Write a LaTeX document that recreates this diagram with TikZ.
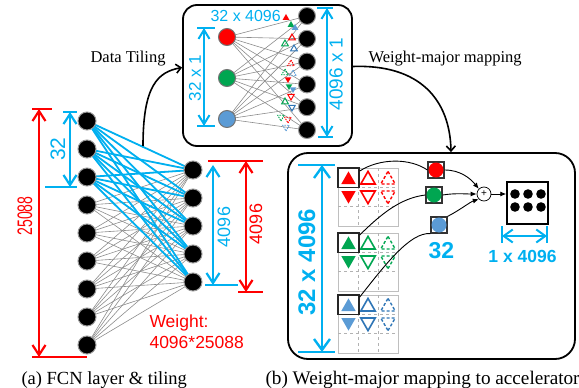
\documentclass[tikz,border=0pt]{standalone}
\usepackage{fontspec}
\usepackage{graphicx}
\setmainfont{Liberation Serif}
\setsansfont{Liberation Sans}
\usetikzlibrary{arrows.meta,backgrounds}
\definecolor{sky}{RGB}{0,176,240}
\definecolor{rr}{RGB}{255,0,0}
\definecolor{gg}{RGB}{0,166,81}
\definecolor{bb}{RGB}{91,155,213}
\definecolor{bd}{RGB}{46,117,182}
\newcommand\fsz[1]{\fontsize{#1}{#1}\selectfont}
\newcommand\tU[3]{\path[#1,shift={#2}] (0,-0.55*#3) -- (0.6*#3,0.5*#3) -- (-0.6*#3,0.5*#3) -- cycle;}
\newcommand\tD[3]{\path[#1,shift={#2}] (0,0.55*#3) -- (0.6*#3,-0.5*#3) -- (-0.6*#3,-0.5*#3) -- cycle;}
\begin{document}
\begin{tikzpicture}[x=1pt,y=-1pt,
  nn/.style={circle,fill=black,draw=black!40,line width=1pt,minimum size=18pt,inner sep=0pt},
  cn/.style={circle,draw=black!55,line width=1pt,minimum size=17pt,inner sep=0pt},
  gedge/.style={draw=black!45,line width=0.6pt},
  bedge/.style={draw=sky,line width=1.8pt},
  barbs/.style={{Straight Barb[length=10pt,width=13pt]}-{Straight Barb[length=10pt,width=13pt]}},
  sbarbs/.style={{Straight Barb[length=9pt,width=11pt]}-{Straight Barb[length=9pt,width=11pt]}},
  bigarrow/.style={line width=1.6pt,-{Straight Barb[length=5pt,width=9pt]}},
  conn/.style={line width=0.9pt,-{Latex[length=6pt,width=5pt]}},
  tl/.style={line width=1pt},
  tdash/.style={line width=0.9pt,dash pattern=on 1.5pt off 1pt},
  gl/.style={line width=1.6pt},
  gdash/.style={line width=1.4pt,dash pattern=on 3pt off 2pt},
  captxt/.style={font=\fsz{18.5}}
]
\useasboundingbox (0,0) rectangle (579,388);

% ---------------- (a) FCN layer ----------------
\foreach \i in {1,...,9} \node[nn] (L\i) at (87,{121+28*(\i-1)}) {};
\foreach \j in {1,...,5} \node[nn] (R\j) at (193,{170+28*(\j-1)}) {};
\begin{scope}[on background layer]
\foreach \i in {1,...,9} \foreach \j in {1,...,5} \draw[gedge] (L\i.center) -- (R\j.center);
\foreach \i in {1,2,3} \foreach \j in {1,...,5} \draw[bedge] (L\i.center) -- (R\j.center);
\end{scope}

% 25088
\draw[rr,line width=2pt] (32,109) -- (52,109) (32,357) -- (87,357);
\draw[rr,line width=2.2pt,barbs] (39,109) -- (39,357);
\node[rotate=90,text=rr,font=\sffamily\fsz{21}] (t25088) at (25,216) {\scalebox{0.67}[1]{25088}};
% 32
\draw[sky,line width=2pt] (63,112) -- (77,112) (45,187) -- (77,187);
\draw[sky,line width=2.2pt,barbs] (70,112) -- (70,187);
\node[rotate=90,text=sky,font=\sffamily\fsz{21}] (t32a) at (58,149) {32};
% 4096 blue / red
\draw[sky,line width=2pt] (205,285) -- (238,285);
\draw[sky,line width=2.2pt,barbs] (213,165) -- (213,285);
\node[rotate=90,text=sky,font=\sffamily\fsz{18}] (t4096b) at (224,227) {4096};
\draw[rr,line width=2pt] (208,161) -- (263,161) (238,292) -- (263,292);
\draw[rr,line width=2.2pt,barbs] (246,161) -- (246,292);
\node[rotate=90,text=rr,font=\sffamily\fsz{18}] (t4096r) at (256,224) {4096};
\node[anchor=base west,text=rr,font=\sffamily\fsz{17.5}] (w1) at (146,327) {Weight:};
\node[anchor=base west,text=rr,font=\sffamily\fsz{17.5}] (w2) at (146,348) {4096*25088};

% ---------------- top box ----------------
\node[draw,rounded corners=14pt,line width=1.8pt,minimum width=169pt,minimum height=141pt,inner sep=0pt] (topbox) at (267.5,75.5) {};
\node[anchor=base west,text=sky,font=\sffamily\fsz{16}] (t32x4096) at (207,21) {32 x 4096};
\node[cn,fill=rr] (cR) at (227,37) {};
\node[cn,fill=gg] (cG) at (227,78) {};
\node[cn,fill=bb] (cB) at (227,119) {};
\foreach \k in {1,...,6} \node[nn,minimum size=17pt] (o\k) at (307,{16+22.8*(\k-1)}) {};
\begin{scope}[on background layer]
\foreach \c in {cR,cG,cB} \foreach \k in {1,...,6} \draw[gedge] (\c.center) -- (o\k.center);
\end{scope}
\draw[sky,line width=2pt] (197,28) -- (215,28) (197,126) -- (215,126);
\draw[sky,line width=2pt,sbarbs] (204,28) -- (204,126);
\node[rotate=90,text=sky,font=\sffamily\fsz{17}] (t32x1) at (195,78) {32 x 1};
\draw[sky,line width=2pt] (317,8) -- (333,8) (318,137) -- (333,137);
\draw[sky,line width=2pt,sbarbs] (327,8) -- (327,137);
\node[rotate=90,text=sky,font=\sffamily\fsz{19}] (t4096x1) at (336,74) {4096 x 1};
% tiny weight symbols
\tU{fill=rr}{(286,17)}{5.5}
\tU{fill=gg}{(291,24)}{5.5}
\tU{fill=bb}{(295,27)}{5.5}
\tU{draw=rr,tl}{(292,37)}{5.5}
\tU{draw=gg,tl}{(285,43)}{5.5}
\tU{draw=bd,tl}{(294,48)}{5.5}
\tU{draw=rr,tdash}{(291,63)}{5.5}
\tU{draw=gg,tdash}{(285,72)}{5.5}
\tU{draw=bb,tdash}{(293,73)}{5.5}
\tD{fill=rr}{(288,80)}{5.5}
\tD{fill=gg}{(289,87)}{5.5}
\tD{fill=bb}{(293,90)}{5.5}
\tD{draw=rr,tl}{(291,97)}{5.5}
\tU{draw=gg,tl}{(285,101)}{5.5}
\tD{draw=bd,tl}{(292,108)}{5.5}
\tD{draw=gg,tdash}{(281,118)}{5.5}
\tD{draw=rr,tdash}{(288,120)}{5.5}
\tD{draw=bb,tdash}{(286,128)}{5.5}

% ---------------- arrows between panels ----------------
\coordinate (dtS) at (143,146);
\draw[bigarrow] (dtS) .. controls (143,85) and (158,72) .. ([yshift=8pt]topbox.west);
\node[anchor=base west,font=\fsz{16.5}] (tdt) at (87,62) {Data Tiling};
\node[draw,rounded corners=20pt,line width=1.8pt,minimum width=287pt,minimum height=206pt,inner sep=0pt] (botbox) at (431.5,256) {};
\draw[bigarrow] ([yshift=9pt]topbox.east) .. controls (420,64) and (450,100) .. (botbox.north -| 451,0);
\node[anchor=base west,font=\fsz{16.5}] (twm) at (365,62) {Weight-major mapping};

% ---------------- bottom box ----------------
\draw[sky,line width=2pt] (298,165) -- (335,165) (298,352) -- (335,352);
\draw[sky,line width=2.4pt,{Straight Barb[length=11pt,width=16pt]}-{Straight Barb[length=11pt,width=16pt]}] (322,165) -- (322,352);
\node[rotate=90,text=sky,font=\sffamily\bfseries\fsz{24}] (t32x4096b) at (307,262) {32 x 4096};

\foreach \gy/\cf/\co in {168/rr/rr,233/gg/gg,295/bb/bd}{
  \draw[black!25,line width=0.8pt] (338,\gy) rectangle ++(60,58);
  \draw[black!30,dashed,line width=0.5pt] (358,\gy) -- ++(0,58) (378,\gy) -- ++(0,58)
     (338,\gy+19.3) -- ++(60,0) (338,\gy+38.6) -- ++(60,0);
  \tU{fill=\cf}{(348.5,\gy+10)}{12}
  \tD{fill=\cf}{(348.5,\gy+29)}{12}
  \tU{draw=\co,gl}{(368,\gy+10)}{12}
  \tD{draw=\co,gl}{(368,\gy+29)}{12}
  \tU{draw=\co,gdash}{(388,\gy+10)}{12}
  \tD{draw=\co,gdash}{(388,\gy+29)}{12}
}
\node[draw=black!85,line width=1.5pt,minimum width=21pt,minimum height=19.5pt,inner sep=0pt] (h1) at (348.5,177.5) {};
\node[draw=black!85,line width=1.5pt,minimum width=21pt,minimum height=19.5pt,inner sep=0pt] (h2) at (348.5,242.5) {};
\node[draw=black!85,line width=1.5pt,minimum width=21pt,minimum height=19.5pt,inner sep=0pt] (h3) at (348.5,304.5) {};

\node[draw=black!80,line width=1.2pt,minimum size=16pt,inner sep=0pt] (sR) at (436,170) {};
\node[draw=black!80,line width=1.2pt,minimum size=16pt,inner sep=0pt] (sG) at (434,195) {};
\node[draw=black!80,line width=1.2pt,minimum size=16pt,inner sep=0pt] (sB) at (439,225) {};
\node[circle,fill=rr,minimum size=15pt,inner sep=0pt] (dR) at (sR) {};
\node[circle,fill=gg,minimum size=15pt,inner sep=0pt] (dG) at (sG) {};
\node[circle,fill=bb,minimum size=15pt,inner sep=0pt] (dB) at (sB) {};

\draw[line width=0.9pt] ([yshift=-4pt]h1.north east) .. controls (380,158) and (410,158) .. (sR.west);
\draw[line width=0.9pt] ([yshift=-3pt]h2.north east) .. controls (380,215) and (400,198) .. (sG.west);
\draw[line width=0.9pt] ([yshift=-3pt]h3.north east) .. controls (385,265) and (410,232) .. (sB.south west);

\node[circle,draw,line width=0.7pt,minimum size=14pt,inner sep=0pt,font=\sffamily\fsz{10}] (plus) at (484,194) {+};
\draw[conn] (sR.east) .. controls (460,170) and (470,178) .. (plus.north west);
\draw[conn] (sG.east) .. controls (455,193) and (465,194) .. (plus.west);
\draw[conn] (sB.north east) .. controls (460,210) and (470,202) .. (plus.south west);

\node[draw,line width=1.5pt,minimum width=41pt,minimum height=42pt,inner sep=0pt] (outb) at (527.5,203) {};
\draw[conn] (plus.east) -- (outb.west |- plus.east);
\foreach \dx in {515,528,541} \foreach \dy in {194,207} \fill (\dx,\dy) circle (4.8pt);

\draw[sky,line width=2pt] (502,226) -- (502,243) (547,226) -- (547,243);
\draw[sky,line width=2pt,{Straight Barb[length=9pt,width=13pt]}-{Straight Barb[length=9pt,width=13pt]}] (502,236) -- (547,236);
\node[text=sky,font=\sffamily\bfseries\fsz{17.5}] (t1x4096) at (522.5,256) {1 x 4096};
\node[text=sky,font=\sffamily\bfseries\fsz{23}] (t32b) at (441.5,251) {32};

% captions
\node[anchor=base west,captxt] (capa) at (18,384) {(a) FCN layer \& tiling};
\node[anchor=base west,font=\fsz{19.2}] (capb) at (262,384) {(b) Weight-major mapping to accelerator};
\end{tikzpicture}
\end{document}
